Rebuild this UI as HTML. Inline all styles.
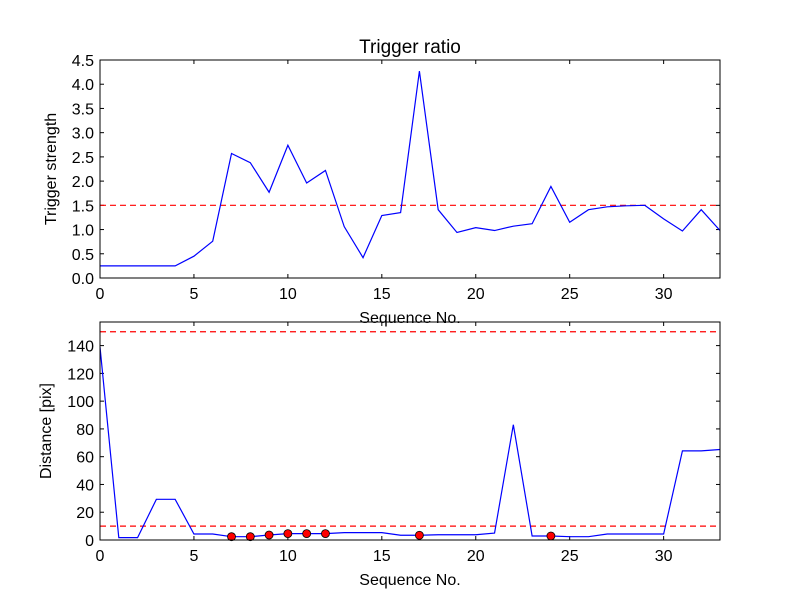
<!DOCTYPE html>
<html><head><meta charset="utf-8"><style>
body{margin:0;background:#fff}
svg{font-family:"Liberation Sans","DejaVu Sans",sans-serif}
</style></head><body>
<svg id="c" width="800" height="600" viewBox="0 0 800 600"></svg>
<script>
const seq = Array.from({length:34},(_,i)=>i);
const triggerStrength = [0.25,0.25,0.25,0.25,0.25,0.45,0.76,2.57,2.38,1.77,2.74,1.96,2.22,1.06,0.42,1.29,1.35,4.27,1.41,0.94,1.04,0.98,1.07,1.12,1.89,1.15,1.41,1.47,1.49,1.5,1.22,0.97,1.41,0.98];
const triggerThreshold = 1.5;
const distance = [139,1.7,1.7,29.3,29.3,4.3,4.3,2.4,2.4,3.6,4.6,4.6,4.6,5.3,5.3,5.3,3.4,3.4,3.8,3.8,3.8,5,83,2.9,2.9,2.4,2.4,4.3,4.3,4.3,4.3,64.2,64.2,65.2];
const markedIdx = [7,8,9,10,11,12,17,24];
const distThresholds = [150,10];
const xTicks = [0,5,10,15,20,25,30];
const topYTicks = [0,0.5,1,1.5,2,2.5,3,3.5,4,4.5];
const botYTicks = [0,20,40,60,80,100,120,140];

const NS="http://www.w3.org/2000/svg";
const svg=document.getElementById('c');
function mk(tag,attrs,parent){const e=document.createElementNS(NS,tag);for(const k in attrs)e.setAttribute(k,attrs[k]);(parent||svg).appendChild(e);return e;}

function panel(top,bottom,ymin,ymax,yTicks,fmt,name){
  const L=100,R=720;
  const sx=v=>L+(v-0)/(33-0)*(R-L);
  const sy=v=>bottom-(v-ymin)/(ymax-ymin)*(bottom-top);
  const g=mk('g',{});
  
  
  xTicks.forEach(t=>{
    const x=sx(t);
    const a=mk('line',{x1:x,x2:x,y1:bottom,y2:bottom-4,stroke:'#000'},g);
    
    mk('line',{x1:x,x2:x,y1:top,y2:top+4,stroke:'#000'},g);
    const tx=mk('text',{x:x,y:bottom+21,'text-anchor':'middle','font-size':16},g);
    
    tx.textContent=t;
  });
  yTicks.forEach(t=>{
    const y=sy(t);
    const a=mk('line',{x1:L,x2:L+4,y1:y,y2:y,stroke:'#000'},g);
    
    mk('line',{x1:R,x2:R-4,y1:y,y2:y,stroke:'#000'},g);
    const tx=mk('text',{x:L-6,y:y+6,'text-anchor':'end','font-size':16},g);
    
    tx.textContent=fmt(t);
  });
  return {g,sx,sy,L,R};
}

// top panel
const p1=panel(60,278,0,4.5,topYTicks,t=>t.toFixed(1),'trigger-panel');
let th=mk('line',{x1:p1.L,x2:p1.R,y1:p1.sy(triggerThreshold),y2:p1.sy(triggerThreshold),stroke:'#f00','stroke-dasharray':'6,4','stroke-width':1.2},p1.g);

let l1=mk('polyline',{points:seq.map((s,i)=>p1.sx(s)+','+p1.sy(triggerStrength[i])).join(' '),fill:'none',stroke:'#00f','stroke-width':1.2},p1.g);

let f1=mk('rect',{x:100,y:60,width:620,height:218,fill:'none',stroke:'#000'},p1.g);


// bottom panel
const p2=panel(322,540,0,157,botYTicks,t=>String(t),'distance-panel');
distThresholds.forEach(v=>{
  const d=mk('line',{x1:p2.L,x2:p2.R,y1:p2.sy(v),y2:p2.sy(v),stroke:'#f00','stroke-dasharray':'6,4','stroke-width':1.2},p2.g);
  
});
const cp=mk('clipPath',{id:'cp2'});mk('rect',{x:100,y:322,width:620,height:218},cp);
let l2=mk('polyline',{points:seq.map((s,i)=>p2.sx(s)+','+p2.sy(distance[i])).join(' '),fill:'none',stroke:'#00f','stroke-width':1.2,'clip-path':'url(#cp2)'},p2.g);

markedIdx.forEach(i=>{
  const c=mk('circle',{cx:p2.sx(seq[i]),cy:p2.sy(distance[i]),r:4,fill:'#f00',stroke:'#000','stroke-width':0.8},p2.g);
  
});
let f2=mk('rect',{x:100,y:322,width:620,height:218,fill:'none',stroke:'#000'},p2.g);


// labels
function label(txt,x,y,name,size,rot){
  const t=mk('text',{x:x,y:y,'text-anchor':'middle','font-size':size});
  if(rot)t.setAttribute('transform',`rotate(-90 ${x} ${y})`);
  
  t.textContent=txt;
}
label('Trigger ratio',410,53,'chart-title',19);
label('Sequence No.',410,323,'top-x-axis-title',16);
label('Sequence No.',410,585,'bottom-x-axis-title',16);
label('Trigger strength',56,169,'top-y-axis-title',16,true);
label('Distance [pix]',51,431,'bottom-y-axis-title',16,true);
</script>
</body></html>
